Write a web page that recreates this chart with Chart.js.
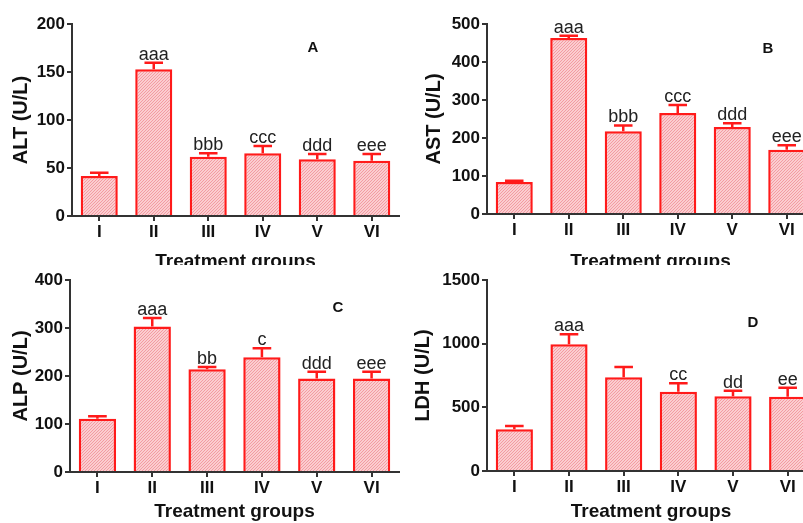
<!DOCTYPE html>
<html>
<head>
<meta charset="utf-8">
<script src="https://cdn.jsdelivr.net/npm/chart.js@4.4.1/dist/chart.umd.min.js"></script>
<style>
  html, body { margin: 0; padding: 0; background: #fff; }
  #wrap { position: relative; width: 803px; height: 523px; overflow: hidden; background: #fff; }
  canvas { position: absolute; background: #fff; }
</style>
</head>
<body>
<div id="wrap">
  <canvas id="pA" width="400" height="274" style="left:0;top:0"></canvas>
  <canvas id="pB" width="420" height="274" style="left:400px;top:0"></canvas>
  <canvas id="pC" width="400" height="258" style="left:0;top:265px"></canvas>
  <canvas id="pD" width="420" height="258" style="left:400px;top:265px"></canvas>
</div>
<script>
// treatment groups
var groups = ["I", "II", "III", "IV", "V", "VI"];

// means and SEM
var altMean = [41.7, 152.8, 61.8, 65.3, 59, 57.6];
var altSem  = [3.3, 6.9, 3.5, 7.6, 5.6, 7.0];
var astMean = [84, 463, 218, 266, 229, 169];
var astSem  = [3.5, 6, 15, 21, 10, 12];
var alpMean = [111, 303, 214, 239, 195, 195];
var alpSem  = [5, 18, 4.5, 19, 14, 14];
var ldhMean = [327, 995, 736, 623, 587, 584];
var ldhSem  = [26, 78, 81, 66, 44, 70];

// significance letters
var altLetters = ["", "aaa", "bbb", "ccc", "ddd", "eee"];
var astLetters = ["", "aaa", "bbb", "ccc", "ddd", "eee"];
var alpLetters = ["", "aaa", "bb", "c", "ddd", "eee"];
var ldhLetters = ["", "aaa", "", "cc", "dd", "ee"];

var FONT = '"Liberation Sans", Arial, sans-serif';
Chart.defaults.font.family = FONT;

// fine diagonal hatch like the original fill
function hatch() {
  var c = document.createElement('canvas');
  c.width = 3; c.height = 3;
  var g = c.getContext('2d');
  g.fillStyle = '#fbcdd0';
  g.fillRect(0, 0, 3, 3);
  g.strokeStyle = '#f39ba2';
  g.lineWidth = 1;
  g.beginPath();
  g.moveTo(0, 3); g.lineTo(3, 0);
  g.moveTo(-1, 1); g.lineTo(1, -1);
  g.moveTo(2, 4); g.lineTo(4, 2);
  g.stroke();
  return g.createPattern(c, 'repeat');
}

function panel(p) {
  var errPlugin = {
    id: 'err',
    afterDatasetsDraw: function (chart) {
      var ctx = chart.ctx;
      var ys = chart.scales.y;
      chart.getDatasetMeta(0).data.forEach(function (bar, i) {
        var top = ys.getPixelForValue(p.means[i] + p.sems[i]);
        var hw = bar.width / 4;
        ctx.save();
        ctx.strokeStyle = '#ff1a1a';
        ctx.lineWidth = 2.5;
        ctx.beginPath();
        ctx.moveTo(bar.x, bar.y);
        ctx.lineTo(bar.x, top);
        ctx.moveTo(bar.x - hw, top);
        ctx.lineTo(bar.x + hw, top);
        ctx.stroke();
        if (p.letters[i]) {
          ctx.fillStyle = '#222';
          ctx.font = '18px ' + FONT;
          ctx.textAlign = 'center';
          ctx.textBaseline = 'alphabetic';
          ctx.fillText(p.letters[i], bar.x, top - 3);
        }
        ctx.restore();
      });
      ctx.save();
      ctx.font = 'bold 15px ' + FONT;
      ctx.fillStyle = '#111';
      ctx.textAlign = 'center';
      ctx.textBaseline = 'middle';
      ctx.fillText(p.tag, p.tagX, p.tagY);
      ctx.restore();
    }
  };

  new Chart(document.getElementById(p.id), {
    type: 'bar',
    data: {
      labels: groups,
      datasets: [{
        data: p.means,
        backgroundColor: hatch(),
        borderColor: '#ff1a1a',
        borderWidth: 2.5,
        barPercentage: 0.68,
        categoryPercentage: 1
      }]
    },
    options: {
      responsive: false,
      animation: false,
      devicePixelRatio: 1,
      layout: { padding: { top: p.top, right: p.right, bottom: 0, left: 0 } },
      plugins: { legend: { display: false }, tooltip: { enabled: false } },
      scales: {
        x: {
          grid: { drawOnChartArea: false, offset: false, tickLength: 5, color: '#333', lineWidth: 2 },
          border: { color: '#333', width: 2 },
          ticks: { color: '#111', font: { size: 17, weight: 'bold' }, padding: 1 },
          title: { display: true, text: 'Treatment groups', color: '#111',
                   font: { size: 19, weight: 'bold' }, padding: { top: 0, bottom: p.xtPad } },
          afterFit: function (s) { s.height = p.xh; }
        },
        y: {
          min: 0, max: p.max,
          ticks: { stepSize: p.step, color: '#111', font: { size: 17, weight: 'bold' }, padding: 2,
                   callback: function (v) { return String(v); } },
          grid: { drawOnChartArea: false, tickLength: 5, color: '#333', lineWidth: 2 },
          border: { color: '#333', width: 2 },
          title: { display: true, text: p.yTitle, color: '#111',
                   font: { size: 20, weight: 'bold' }, padding: { top: p.ytPad, bottom: 0 } },
          afterFit: function (s) { s.width = p.yw; }
        }
      }
    },
    plugins: [errPlugin]
  });
}

panel({ id: 'pA', yTitle: 'ALT (U/L)', means: altMean, sems: altSem, letters: altLetters,
        max: 200, step: 50, tag: 'A', tagX: 313, tagY: 48,
        yw: 72, top: 24, right: 1, xh: 58, xtPad: 1, ytPad: 9 });
panel({ id: 'pB', yTitle: 'AST (U/L)', means: astMean, sems: astSem, letters: astLetters,
        max: 500, step: 100, tag: 'B', tagX: 368, tagY: 49,
        yw: 87, top: 24, right: 6, xh: 60, xtPad: 1, ytPad: 22 });
panel({ id: 'pC', yTitle: 'ALP (U/L)', means: alpMean, sems: alpSem, letters: alpLetters,
        max: 400, step: 100, tag: 'C', tagX: 338, tagY: 43,
        yw: 70, top: 15, right: 1, xh: 51, xtPad: 0, ytPad: 9 });
panel({ id: 'pD', yTitle: 'LDH (U/L)', means: ldhMean, sems: ldhSem, letters: ldhLetters,
        max: 1500, step: 500, tag: 'D', tagX: 353, tagY: 58,
        yw: 87, top: 15, right: 5, xh: 52, xtPad: 0, ytPad: 11 });
</script>
</body>
</html>
